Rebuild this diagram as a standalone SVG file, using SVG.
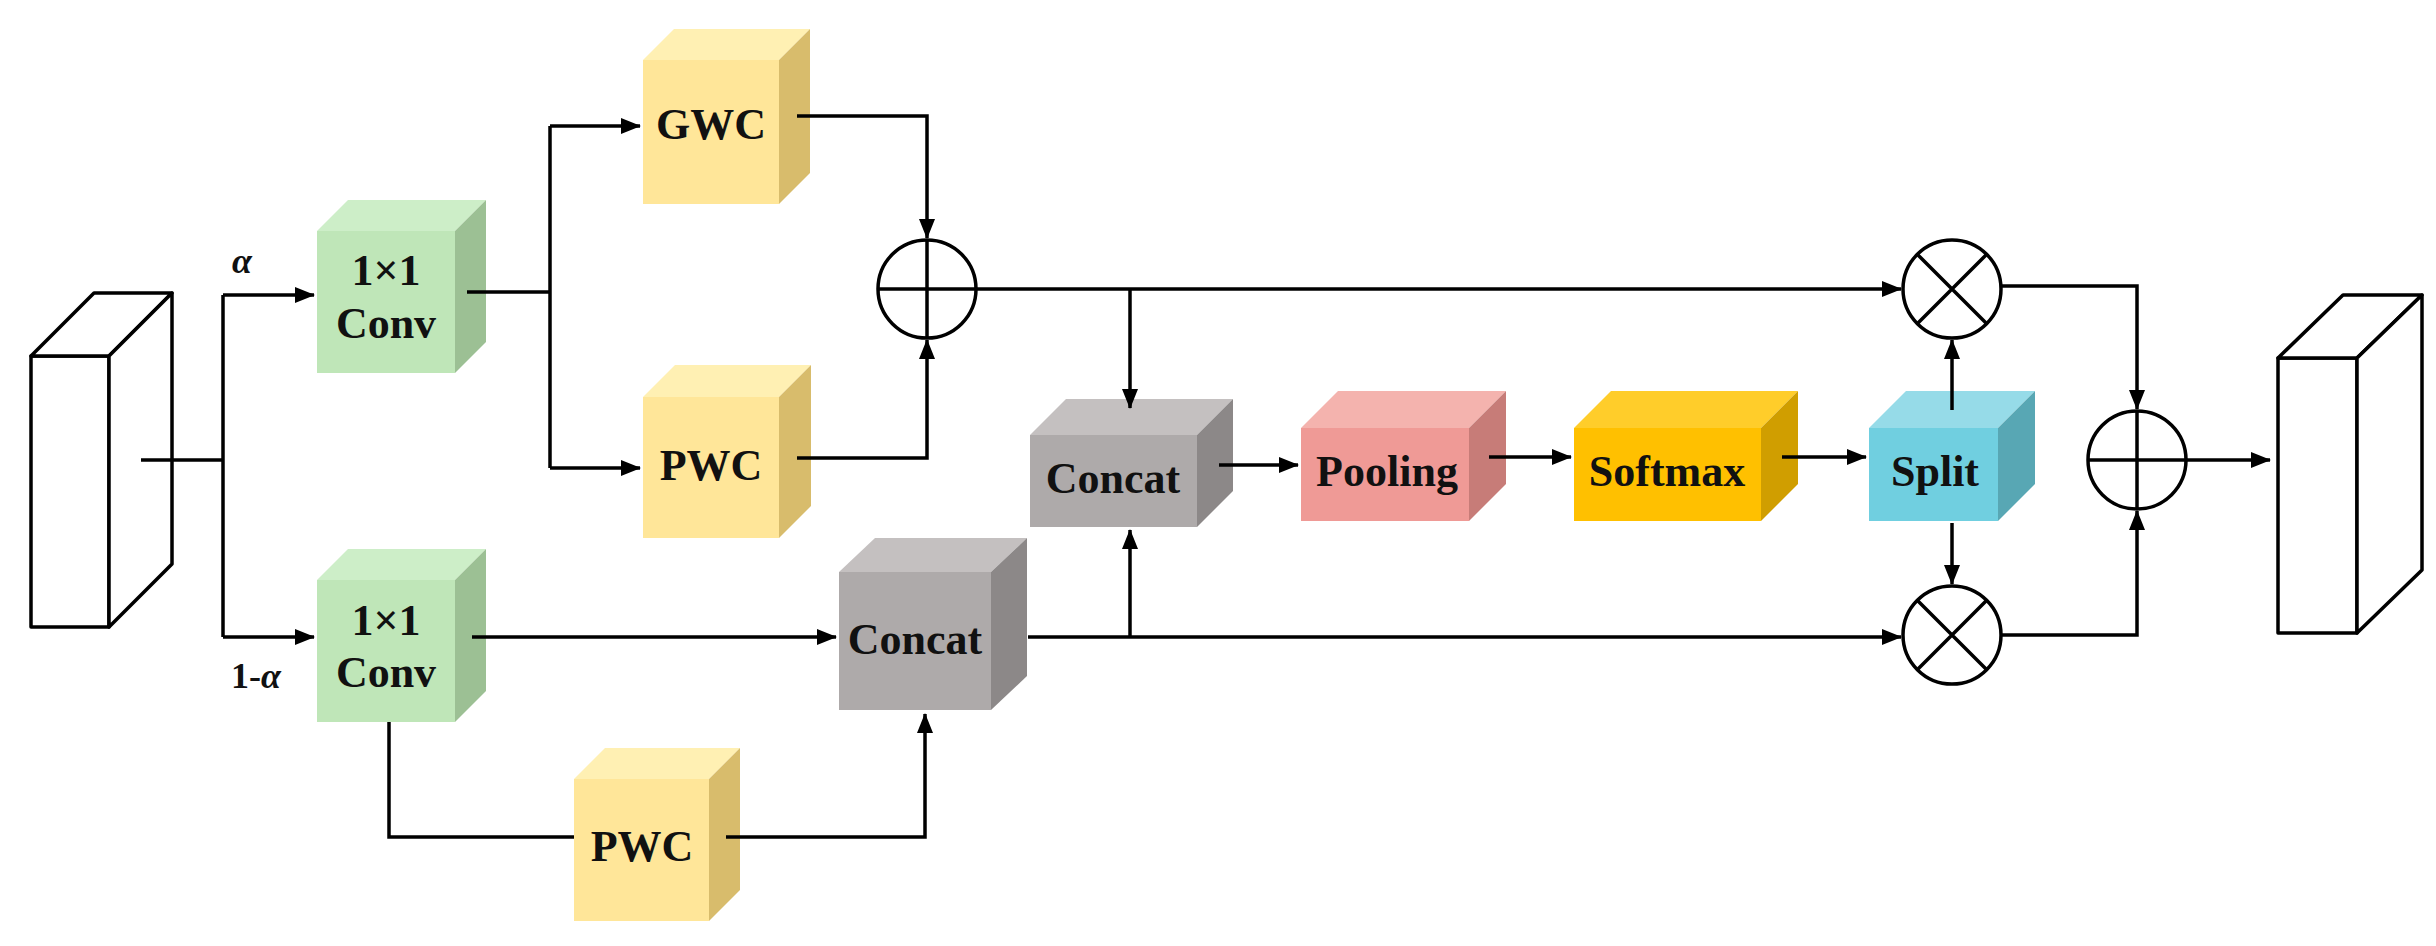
<svg xmlns="http://www.w3.org/2000/svg" width="2436" height="946" viewBox="0 0 2436 946">
<defs>
<marker id="ah" markerUnits="userSpaceOnUse" markerWidth="20" markerHeight="16" refX="19" refY="8" orient="auto"><path d="M0,0 L20,8 L0,16 z" fill="#000"/></marker>
</defs>
<style>
.ln{fill:none;stroke:#000;stroke-width:3.5}
.ar{fill:none;stroke:#000;stroke-width:3.5;marker-end:url(#ah)}
.t{font-family:"Liberation Serif","Times New Roman",serif;font-weight:bold;font-size:44px;text-anchor:middle;fill:#111}
.o{fill:#fff;stroke:#000;stroke-width:3.5;stroke-linejoin:round}
.g1{fill:#bfe6b8}.g2{fill:#cdeec8}.g3{fill:#9cc094}
.y1{fill:#ffe699}.y2{fill:#fff0b3}.y3{fill:#d8bc6c}
.c1{fill:#aeaaaa}.c2{fill:#c4c0c0}.c3{fill:#8c8888}
.p1{fill:#ef9a96}.p2{fill:#f4b3ae}.p3{fill:#c77c78}
.s1{fill:#ffc000}.s2{fill:#ffcd2a}.s3{fill:#d09e00}
.b1{fill:#70cfe0}.b2{fill:#96dbe8}.b3{fill:#58a7b4}
</style>
<rect width="2436" height="946" fill="#fff"/>
<g id="input">
<polygon class="o" points="31,356 109,356 109,627 31,627"/>
<polygon class="o" points="31,356 94,293 172,293 109,356"/>
<polygon class="o" points="109,356 172,293 172,564 109,627"/>
</g>
<g id="output">
<polygon class="o" points="2278,358 2357,358 2357,633 2278,633"/>
<polygon class="o" points="2278,358 2343,295 2422,295 2357,358"/>
<polygon class="o" points="2357,358 2422,295 2422,570 2357,633"/>
</g>
<g id="conv1">
<rect class="g1" x="317" y="231" width="138" height="142"/>
<polygon class="g2" points="317,231 348,200 486,200 455,231"/>
<polygon class="g3" points="455,231 486,200 486,342 455,373"/>
<text class="t" x="386" y="285">1×1</text><text class="t" x="386" y="338">Conv</text>
</g>
<g id="conv2">
<rect class="g1" x="317" y="580" width="138" height="142"/>
<polygon class="g2" points="317,580 348,549 486,549 455,580"/>
<polygon class="g3" points="455,580 486,549 486,691 455,722"/>
<text class="t" x="386" y="635">1×1</text><text class="t" x="386" y="687">Conv</text>
</g>
<g id="gwc">
<rect class="y1" x="643" y="60" width="136" height="144"/>
<polygon class="y2" points="643,60 674,29 810,29 779,60"/>
<polygon class="y3" points="779,60 810,29 810,173 779,204"/>
<text class="t" x="711" y="139">GWC</text>
</g>
<g id="pwc1">
<rect class="y1" x="643" y="397" width="136" height="141"/>
<polygon class="y2" points="643,397 675,365 811,365 779,397"/>
<polygon class="y3" points="779,397 811,365 811,506 779,538"/>
<text class="t" x="711" y="480">PWC</text>
</g>
<g id="pwc2">
<rect class="y1" x="574" y="779" width="135" height="142"/>
<polygon class="y2" points="574,779 605,748 740,748 709,779"/>
<polygon class="y3" points="709,779 740,748 740,890 709,921"/>
<text class="t" x="642" y="861">PWC</text>
</g>
<g id="concat1">
<rect class="c1" x="839" y="572" width="152" height="138"/>
<polygon class="c2" points="839,572 875,538 1027,538 991,572"/>
<polygon class="c3" points="991,572 1027,538 1027,676 991,710"/>
<text class="t" x="915" y="654">Concat</text>
</g>
<g id="concat2">
<rect class="c1" x="1030" y="435" width="167" height="92"/>
<polygon class="c2" points="1030,435 1066,399 1233,399 1197,435"/>
<polygon class="c3" points="1197,435 1233,399 1233,491 1197,527"/>
<text class="t" x="1113" y="493">Concat</text>
</g>
<g id="pooling">
<rect class="p1" x="1301" y="428" width="168" height="93"/>
<polygon class="p2" points="1301,428 1338,391 1506,391 1469,428"/>
<polygon class="p3" points="1469,428 1506,391 1506,484 1469,521"/>
<text class="t" x="1387" y="486">Pooling</text>
</g>
<g id="softmax">
<rect class="s1" x="1574" y="428" width="187" height="93"/>
<polygon class="s2" points="1574,428 1611,391 1798,391 1761,428"/>
<polygon class="s3" points="1761,428 1798,391 1798,484 1761,521"/>
<text class="t" x="1667" y="486">Softmax</text>
</g>
<g id="split">
<rect class="b1" x="1869" y="428" width="129" height="93"/>
<polygon class="b2" points="1869,428 1906,391 2035,391 1998,428"/>
<polygon class="b3" points="1998,428 2035,391 2035,484 1998,521"/>
<text class="t" x="1935" y="486">Split</text>
</g>
<g id="oplus1"><circle class="o" cx="927" cy="289" r="49"/><path class="ln" d="M878,289H976M927,240V338"/></g>
<g id="oplus2"><circle class="o" cx="2137" cy="460" r="49"/><path class="ln" d="M2088,460H2186M2137,411V509"/></g>
<g id="otimes1"><circle class="o" cx="1952" cy="289" r="49"/><path class="ln" d="M1917,254L1987,324M1987,254L1917,324"/></g>
<g id="otimes2"><circle class="o" cx="1952" cy="635" r="49"/><path class="ln" d="M1917,600L1987,670M1987,600L1917,670"/></g>
<g id="labels">
<text class="t" x="242" y="273" style="font-size:36px;font-style:italic">α</text>
<text class="t" x="256" y="688" style="font-size:36px"><tspan>1-</tspan><tspan font-style="italic">α</tspan></text>
</g>
<g id="connectors">
<path class="ln" d="M141,460H223M223,295V637"/>
<path class="ar" d="M223,295H314"/>
<path class="ar" d="M223,637H314"/>
<path class="ln" d="M467,292H550M550,126V468"/>
<path class="ar" d="M550,126H640"/>
<path class="ar" d="M550,468H640"/>
<path class="ar" d="M797,116H927V238"/>
<path class="ar" d="M797,458H927V340"/>
<path class="ar" d="M976,289H1901"/>
<path class="ar" d="M1130,289V408"/>
<path class="ar" d="M472,637H836"/>
<path class="ar" d="M1028,637H1901"/>
<path class="ar" d="M1130,637V530"/>
<path class="ln" d="M389,722V837H574"/>
<path class="ar" d="M726,837H925V714"/>
<path class="ar" d="M1219,465H1298"/>
<path class="ar" d="M1489,457H1571"/>
<path class="ar" d="M1782,457H1866"/>
<path class="ar" d="M1952,410V340"/>
<path class="ar" d="M1952,523V584"/>
<path class="ar" d="M2001,286H2137V409"/>
<path class="ar" d="M2001,635H2137V511"/>
<path class="ar" d="M2186,460H2270"/>
</g>
</svg>
